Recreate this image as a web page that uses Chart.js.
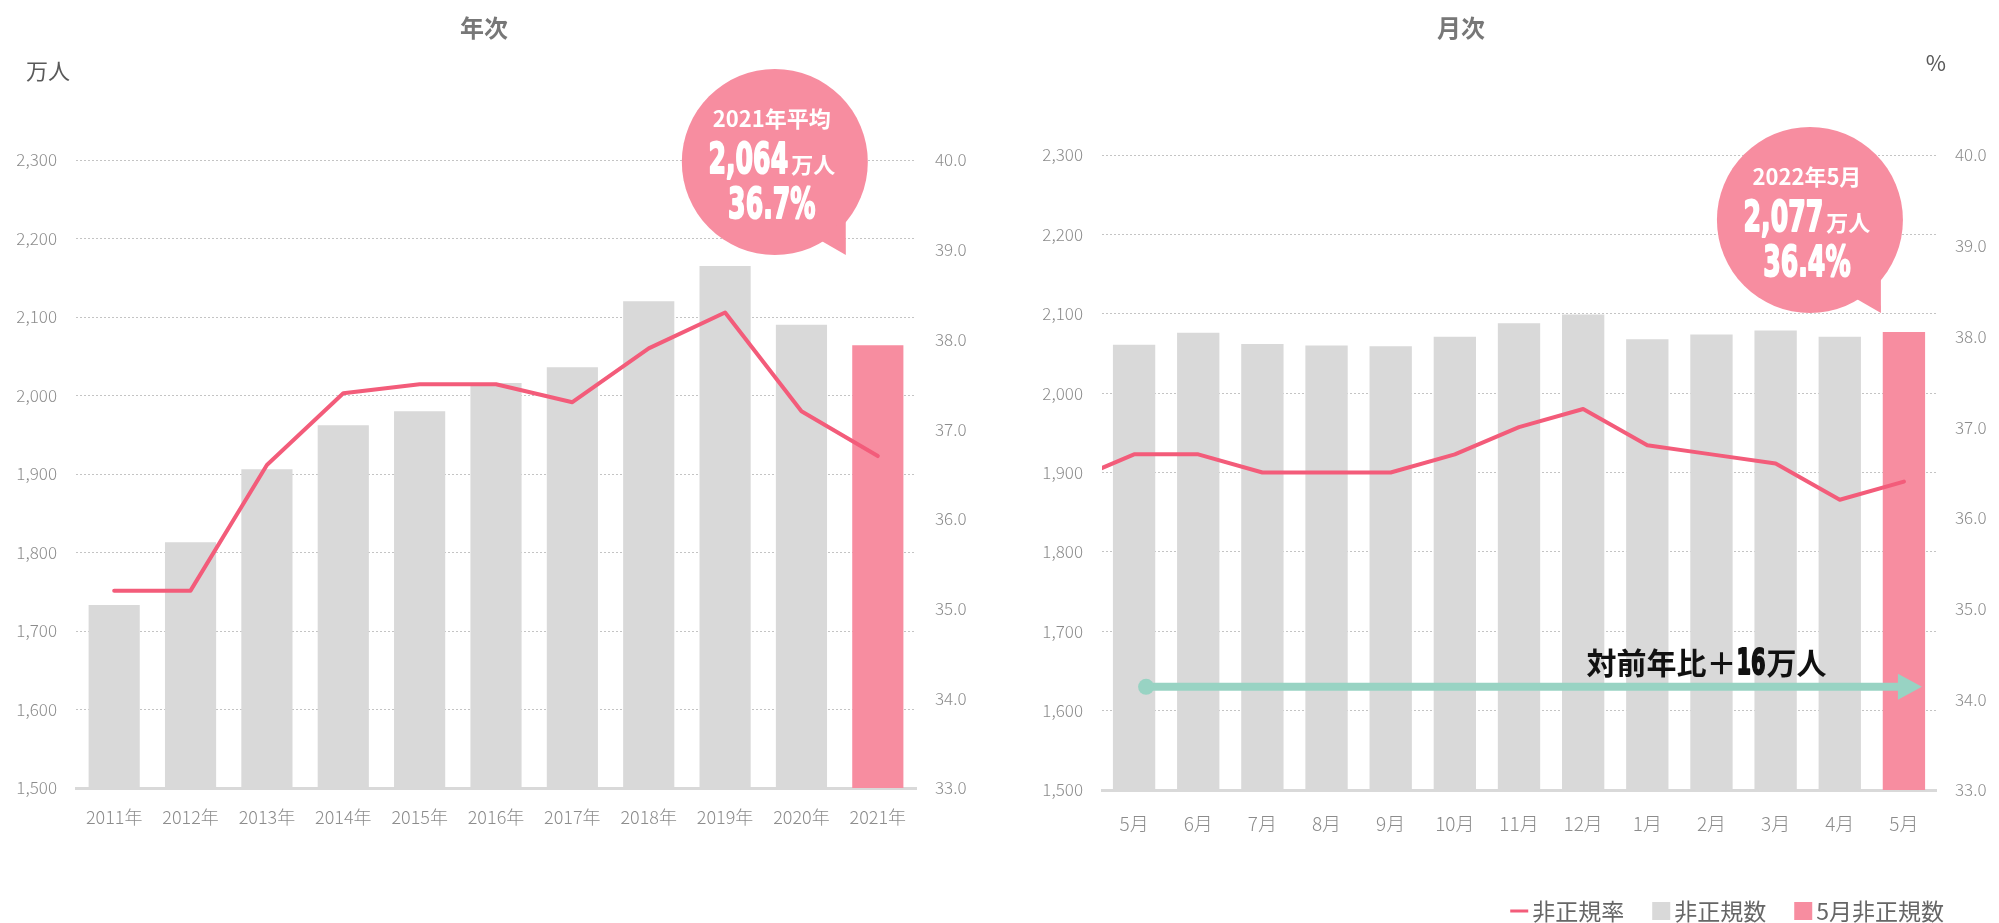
<!DOCTYPE html>
<html>
<head>
<meta charset="utf-8">
<script src="https://cdn.jsdelivr.net/npm/chart.js@4.4.0/dist/chart.umd.min.js"></script>
<style>
  html, body { margin: 0; padding: 0; background: #fff; }
  #wrap { position: relative; width: 1999px; height: 923px; }
  #yearChart { position: absolute; left: 0; top: 0; }
  #monthChart { position: absolute; left: 1000px; top: 0; }
</style>
</head>
<body>
<div id="wrap">
  <canvas id="yearChart" width="1000" height="923"></canvas>
  <canvas id="monthChart" width="999" height="923"></canvas>
</div>
<script>
// 年次
var years = ['2011年', '2012年', '2013年', '2014年', '2015年', '2016年', '2017年', '2018年', '2019年', '2020年', '2021年'];
var yearCount = [1733, 1813, 1906, 1962, 1980, 2016, 2036, 2120, 2165, 2090, 2064];
var yearRate = [35.2, 35.2, 36.6, 37.4, 37.5, 37.5, 37.3, 37.9, 38.3, 37.2, 36.7];

// 月次 (first point is the previous month, only its line segment shows at the edge)
var months = ['4月', '5月', '6月', '7月', '8月', '9月', '10月', '11月', '12月', '1月', '2月', '3月', '4月', '5月'];
var monthCount = [null, 2061, 2076, 2062, 2060, 2059, 2071, 2088, 2099, 2068, 2074, 2079, 2071, 2077];
var monthRate = [36.4, 36.7, 36.7, 36.5, 36.5, 36.5, 36.7, 37.0, 37.2, 36.8, 36.7, 36.6, 36.2, 36.4];

var countAxis = [1500, 2300, 100];
var rateAxis = [33, 40, 1];
var arrowLevel = 1630;

var gray = '#d9d9d9';
var pink = '#f78da0';
var red = '#f35c7a';
var teal = '#98d3c3';
var fam = "'Noto Sans CJK JP', 'Noto Sans', sans-serif";
var numFam = "'DejaVu Sans', sans-serif";

Chart.defaults.font.family = fam;
Chart.defaults.color = '#8c8c8c';

// heavy condensed digits (no Impact here, so squeeze a bold face)
function heavy(ctx, text, x, y, size, sx) {
  ctx.font = 'bold ' + size + 'px ' + numFam;
  var w = ctx.measureText(text).width * sx;
  ctx.save();
  ctx.translate(x, y);
  ctx.scale(sx, 1);
  ctx.textAlign = 'left';
  ctx.lineWidth = 2;
  ctx.lineJoin = 'round';
  ctx.strokeStyle = ctx.fillStyle;
  ctx.strokeText(text, 0, 0);
  ctx.fillText(text, 0, 0);
  ctx.restore();
  return w;
}

function drawBubble(ctx, cx, cy, b) {
  var r = 93;
  ctx.fillStyle = pink;
  ctx.beginPath();
  ctx.arc(cx, cy, r, 0, Math.PI * 2);
  ctx.fill();
  var a1 = 38 * Math.PI / 180, a2 = 60 * Math.PI / 180;
  ctx.beginPath();
  ctx.moveTo(cx + (r - 3) * Math.cos(a1), cy + (r - 3) * Math.sin(a1));
  ctx.lineTo(cx + 71, cy + 93);
  ctx.lineTo(cx + (r - 3) * Math.cos(a2), cy + (r - 3) * Math.sin(a2));
  ctx.closePath();
  ctx.fill();

  var tx = cx - 3;
  ctx.fillStyle = '#fff';
  ctx.textAlign = 'center';
  ctx.textBaseline = 'middle';
  ctx.font = 'bold 22px ' + fam;
  ctx.fillText(b.head, tx, cy - 43);

  ctx.textBaseline = 'alphabetic';
  ctx.font = 'bold 42px ' + numFam;
  var nw = ctx.measureText(b.num).width * 0.6;
  ctx.font = 'bold 22px ' + fam;
  var kw = ctx.measureText('万人').width;
  var sx = tx - (nw + 3 + kw) / 2;
  heavy(ctx, b.num, sx, cy + 11, 42, 0.6);
  ctx.font = 'bold 22px ' + fam;
  ctx.textAlign = 'left';
  ctx.fillText('万人', sx + nw + 3, cy + 11);

  ctx.font = 'bold 42px ' + numFam;
  var pw = ctx.measureText(b.pct).width * 0.6;
  heavy(ctx, b.pct, tx - pw / 2, cy + 56, 42, 0.6);
}

var decor = {
  id: 'decor',
  afterDraw: function (chart, args, o) {
    var ctx = chart.ctx, a = chart.chartArea, xs = chart.scales.x, ys = chart.scales.yL;
    ctx.save();
    ctx.textAlign = 'center';
    ctx.textBaseline = 'middle';
    ctx.fillStyle = '#777777';
    ctx.font = 'bold 24px ' + fam;
    ctx.fillText(o.title, o.titleX, 28);

    ctx.fillStyle = '#595959';
    ctx.font = '22px ' + fam;
    ctx.fillText(o.unit, o.unitX, o.unitY);

    if (o.bubble) {
      var bx = xs.getPixelForValue(o.bubble.idx) + o.bubble.dx;
      drawBubble(ctx, bx, a.top + o.bubble.dy, o.bubble);
    }

    if (o.arrow) {
      var ay = ys.getPixelForValue(o.arrow.level);
      var x1 = xs.getPixelForValue(o.arrow.from) + 12;
      var x2 = xs.getPixelForValue(o.arrow.to) + 18;
      ctx.strokeStyle = teal;
      ctx.fillStyle = teal;
      ctx.lineWidth = 8;
      ctx.beginPath();
      ctx.moveTo(x1, ay);
      ctx.lineTo(x2 - 20, ay);
      ctx.stroke();
      ctx.beginPath();
      ctx.arc(x1, ay, 8, 0, Math.PI * 2);
      ctx.fill();
      ctx.beginPath();
      ctx.moveTo(x2 - 24, ay - 13);
      ctx.lineTo(x2, ay);
      ctx.lineTo(x2 - 24, ay + 13);
      ctx.closePath();
      ctx.fill();

      // 対前年比 label
      ctx.fillStyle = '#111';
      ctx.textBaseline = 'alphabetic';
      ctx.textAlign = 'left';
      ctx.font = 'bold 30px ' + fam;
      var w1 = ctx.measureText(o.arrow.pre).width;
      ctx.font = 'bold 36px ' + numFam;
      var w2 = ctx.measureText(o.arrow.num).width * 0.58;
      ctx.font = 'bold 30px ' + fam;
      var w3 = ctx.measureText(o.arrow.post).width;
      var lx = x2 - 216 - (w1 + w2 + w3) / 2;
      var ly = ay - 13;
      ctx.fillText(o.arrow.pre, lx, ly);
      heavy(ctx, o.arrow.num, lx + w1, ly, 36, 0.58);
      ctx.font = 'bold 30px ' + fam;
      ctx.fillText(o.arrow.post, lx + w1 + w2 + 1, ly);
    }

    if (o.legend) {
      var items = [
        {text: '非正規率', color: red, line: true},
        {text: '非正規数', color: gray},
        {text: '5月非正規数', color: pink}
      ];
      ctx.font = '23px ' + fam;
      var total = 0;
      items.forEach(function (it, i) {
        it.w = ctx.measureText(it.text).width;
        total += 18 + 4 + it.w + (i < items.length - 1 ? 28 : 0);
      });
      var lxp = a.right + 8 - total, ly2 = 911;
      ctx.textAlign = 'left';
      ctx.textBaseline = 'middle';
      items.forEach(function (it) {
        ctx.fillStyle = it.color;
        if (it.line) ctx.fillRect(lxp, ly2 - 1.5, 18, 3);
        else ctx.fillRect(lxp, ly2 - 9, 18, 18);
        ctx.fillStyle = '#666666';
        ctx.fillText(it.text, lxp + 22, ly2);
        lxp += 18 + 4 + it.w + 28;
      });
    }
    ctx.restore();
  }
};

function makeScales(c) {
  return {
    x: {
      min: c.xMin,
      offset: true,
      grid: {display: false, drawTicks: false},
      border: {display: true, color: gray, width: 3},
      ticks: {autoSkip: false, maxRotation: 0, padding: c.xPad, color: '#8c8c8c', font: {size: c.xFont, weight: '300'}},
      afterFit: function (s) { s.height = 50; }
    },
    yL: {
      position: 'left',
      min: countAxis[0],
      max: countAxis[1],
      grid: {color: '#c4c4c4', lineWidth: 1, drawTicks: false},
      border: {display: false, dash: [2, 2]},
      ticks: {stepSize: countAxis[2], padding: 19, color: '#8c8c8c', font: {size: 17, weight: '300'},
        callback: function (v) { return v.toLocaleString('en-US'); }},
      afterFit: function (s) { s.width = c.leftW; }
    },
    yR: {
      position: 'right',
      min: rateAxis[0],
      max: rateAxis[1],
      grid: {display: false, drawTicks: false},
      border: {display: false},
      ticks: {stepSize: rateAxis[2], padding: 19, color: '#8c8c8c', font: {size: 17, weight: '300'},
        callback: function (v) { return v.toFixed(1); }},
      afterFit: function (s) { s.width = c.rightW; }
    }
  };
}

function barColors(arr) {
  return arr.map(function (v, i) { return i === arr.length - 1 ? pink : gray; });
}

new Chart(document.getElementById('yearChart'), {
  type: 'bar',
  data: {
    labels: years,
    datasets: [
      {type: 'line', label: '非正規率', data: yearRate, yAxisID: 'yR', borderColor: red, borderWidth: 4,
        pointRadius: 0, tension: 0, borderJoinStyle: 'round', borderCapStyle: 'round', order: 1},
      {type: 'bar', label: '非正規数', data: yearCount, yAxisID: 'yL', backgroundColor: barColors(yearCount),
        barPercentage: 0.67, categoryPercentage: 1, order: 2}
    ]
  },
  options: {
    responsive: false,
    animation: false,
    layout: {padding: {top: 160, left: 0, right: 24, bottom: 85}},
    scales: makeScales({xMin: undefined, xPad: 18, xFont: 18, leftW: 76, rightW: 60}),
    plugins: {
      legend: {display: false},
      tooltip: {enabled: false},
      decor: {
        title: '年次', titleX: 484, unit: '万人', unitX: 48, unitY: 71,
        bubble: {idx: yearCount.length - 1, dx: -103, dy: 2, head: '2021年平均',
          num: yearCount[yearCount.length - 1].toLocaleString('en-US'),
          pct: yearRate[yearRate.length - 1].toFixed(1) + '%'}
      }
    }
  },
  plugins: [decor]
});

var last = monthCount.length - 1;
new Chart(document.getElementById('monthChart'), {
  type: 'bar',
  data: {
    labels: months,
    datasets: [
      {type: 'line', label: '非正規率', data: monthRate, yAxisID: 'yR', borderColor: red, borderWidth: 4,
        pointRadius: 0, tension: 0, borderJoinStyle: 'round', borderCapStyle: 'round', order: 1},
      {type: 'bar', label: '非正規数', data: monthCount, yAxisID: 'yL', backgroundColor: barColors(monthCount),
        barPercentage: 0.66, categoryPercentage: 1, order: 2}
    ]
  },
  options: {
    responsive: false,
    animation: false,
    layout: {padding: {top: 155, left: 0, right: 13, bottom: 83}},
    scales: makeScales({xMin: 1, xPad: 22, xFont: 19, leftW: 102, rightW: 50}),
    plugins: {
      legend: {display: false},
      tooltip: {enabled: false},
      decor: {
        title: '月次', titleX: 461, unit: '%', unitX: 936, unitY: 63,
        bubble: {idx: last, dx: -94, dy: 65, head: '2022年5月',
          num: monthCount[last].toLocaleString('en-US'),
          pct: monthRate[last].toFixed(1) + '%'},
        arrow: {from: 1, to: last, level: arrowLevel, pre: '対前年比＋',
          num: String(monthCount[last] - monthCount[1]), post: '万人'},
        legend: true
      }
    }
  },
  plugins: [decor]
});
</script>
</body>
</html>
